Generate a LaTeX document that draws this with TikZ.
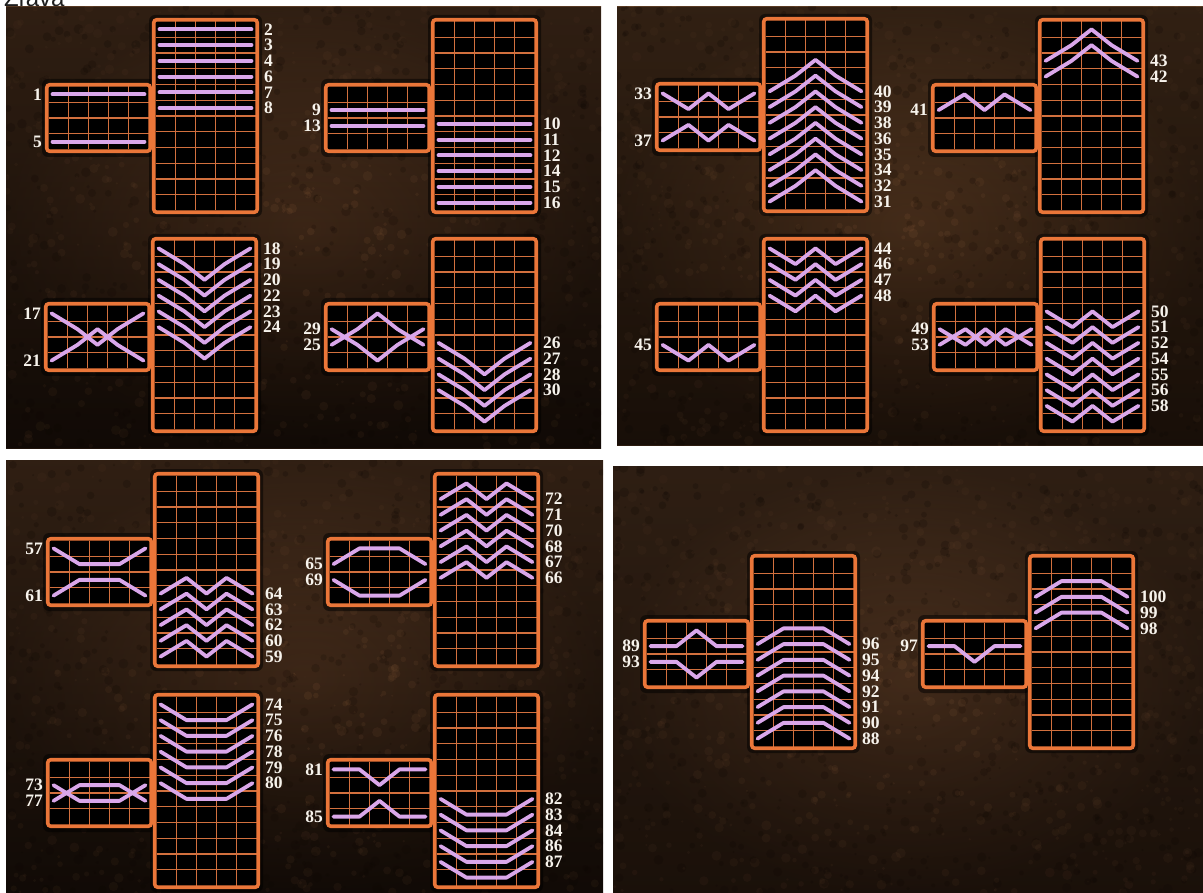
\documentclass[tikz,border=0pt]{standalone}
\usepackage{fontspec}
\setmainfont{Liberation Serif}
\newfontfamily\titlefont{Liberation Sans}
\usetikzlibrary{fadings}
\definecolor{boxorange}{HTML}{EA7639}
\definecolor{gridorange}{HTML}{D2703E}
\definecolor{paycol}{HTML}{D9A7EA}
\definecolor{labcol}{HTML}{F7F3EC}
\definecolor{titlecol}{HTML}{1E1E1E}
\definecolor{blobhi}{HTML}{8A5C3A}
\definecolor{bloblo}{HTML}{140A04}
\definecolor{pAtop}{HTML}{573822}\definecolor{pAmid}{HTML}{40291A}\definecolor{pAbot}{HTML}{1E120A}
\definecolor{pBtop}{HTML}{5A3B23}\definecolor{pBmid}{HTML}{452C1B}\definecolor{pBbot}{HTML}{2C1B0F}
\definecolor{pCtop}{HTML}{583923}\definecolor{pCmid}{HTML}{40291A}\definecolor{pCbot}{HTML}{1F130B}
\definecolor{pDtop}{HTML}{553823}\definecolor{pDmid}{HTML}{4C321F}\definecolor{pDbot}{HTML}{301E12}
\tikzfading[name=vignette, inner color=transparent!100, outer color=transparent!55]

\tikzset{
  boxfill/.style={fill=black, rounded corners=3},
  boxedge/.style={draw=boxorange, line width=3.6, rounded corners=3},
  gridln/.style={draw=gridorange, line width=1.35},
  gridlnv/.style={draw=gridorange, line width=1.6},
  boxshadow/.style={fill=black, opacity=0.5, rounded corners=6},
  payln/.style={draw=paycol, line width=3.8, line cap=round, line join=round},
  numlab/.style={text=labcol, font=\bfseries\fontsize{17.5}{17.5}\selectfont, inner sep=0pt},
}

\newcommand\slotboxes{%
  \fill[boxshadow] (-110,61) rectangle (3,139);
  \fill[boxshadow] (-3,-3) rectangle (110,199);
  \fill[boxfill] (-105.25,66.75) rectangle (-1.75,133.25);
  \fill[boxfill] (1.75,1.75) rectangle (105.25,194.25);
  \foreach \i in {1,...,4}{%
    \draw[gridlnv] ({-103.5+20*\i},68.5) -- ({-103.5+20*\i},131.5);
    \draw[gridlnv] ({3.5+20*\i},3.5) -- ({3.5+20*\i},192.5);}
  \foreach \j in {1,...,3}{\draw[gridln] (-103.5,{68.5+15.75*\j}) -- (-3.5,{68.5+15.75*\j});}
  \foreach \j in {1,...,11}{\draw[gridln] (3.5,{3.5+15.75*\j}) -- (103.5,{3.5+15.75*\j});}
  \draw[boxedge] (-105.25,66.75) rectangle (-1.75,133.25);
  \draw[boxedge] (1.75,1.75) rectangle (105.25,194.25);
}
\newcommand\payS[5]{\draw[payln] (-99.5,{68.5+(#1-0.5)*15.75}) -- (-73.5,{68.5+(#2-0.5)*15.75}) -- (-53.5,{68.5+(#3-0.5)*15.75}) -- (-33.5,{68.5+(#4-0.5)*15.75}) -- (-7.5,{68.5+(#5-0.5)*15.75});}
\newcommand\payT[5]{\draw[payln] (7.5,{3.5+(#1-0.5)*15.75}) -- (33.5,{3.5+(#2-0.5)*15.75}) -- (53.5,{3.5+(#3-0.5)*15.75}) -- (73.5,{3.5+(#4-0.5)*15.75}) -- (99.5,{3.5+(#5-0.5)*15.75});}
\newcommand\labL[2]{\node[numlab, anchor=east] (n#1) at (-110,{68.5+(#2-0.5)*15.75}) {#1};}
\newcommand\labR[2]{\node[numlab, anchor=west] (n#1) at (112,{3.5+(#2-0.5)*15.75}) {#1};}
\newcommand\texturize[4]{%
  \begin{scope}
    \clip (#1,#2) rectangle (#3,#4);
    \foreach \k in {1,...,700}{%
      \pgfmathsetmacro\bx{#1+rnd*(#3-#1)}%
      \pgfmathsetmacro\by{#2+rnd*(#4-#2)}%
      \pgfmathsetmacro\br{1+rnd*4}%
      \fill[blobhi, opacity=0.16] (\bx,\by) circle[radius=\br];
      \pgfmathsetmacro\bx{#1+rnd*(#3-#1)}%
      \pgfmathsetmacro\by{#2+rnd*(#4-#2)}%
      \pgfmathsetmacro\br{1+rnd*4}%
      \fill[bloblo, opacity=0.2] (\bx,\by) circle[radius=\br];
    }
    \fill[black, path fading=vignette] (#1,#2) rectangle (#3,#4);
  \end{scope}}

\begin{document}
\begin{tikzpicture}[x=1pt, y=-1pt]
\useasboundingbox (0,0) rectangle (1203,893);
\clip (0,0) rectangle (1203,893);
\fill[white] (0,0) rectangle (1203,893);
\pgfmathsetseed{42}

% panels
\shade[top color=pAtop, middle color=pAmid, bottom color=pAbot] (6,7) rectangle (601,448);
\texturize{6}{7}{601}{448}
\shade[top color=pBtop, middle color=pBmid, bottom color=pBbot] (617,7) rectangle (1203,445);
\texturize{617}{7}{1203}{445}
\shade[top color=pCtop, middle color=pCmid, bottom color=pCbot] (6,460) rectangle (603,893);
\texturize{6}{460}{603}{893}
\shade[top color=pDtop, middle color=pDmid, bottom color=pDbot] (613,466) rectangle (1203,893);
\texturize{613}{466}{1203}{893}

\node[anchor=base west, inner sep=0pt, text=titlecol, font=\titlefont\fontsize{24}{24}\selectfont] (title) at (4,7) {Zľava};

% D1
\begin{scope}[shift={(152,18)}]
  \slotboxes
  \payS{1}{1}{1}{1}{1} \payS{4}{4}{4}{4}{4}
  \labL{1}{1} \labL{5}{4}
  \foreach \r/\n in {1/2,2/3,3/4,4/6,5/7,6/8}{\payT{\r}{\r}{\r}{\r}{\r}\labR{\n}{\r}}
\end{scope}
% D2
\begin{scope}[shift={(431,18)}]
  \slotboxes
  \payS{2}{2}{2}{2}{2} \payS{3}{3}{3}{3}{3}
  \labL{9}{2} \labL{13}{3}
  \foreach \r/\n in {7/10,8/11,9/12,10/14,11/15,12/16}{\payT{\r}{\r}{\r}{\r}{\r}\labR{\n}{\r}}
\end{scope}
% D3
\begin{scope}[shift={(151,237)}]
  \slotboxes
  \payS{1}{2}{3}{2}{1} \payS{4}{3}{2}{3}{4}
  \labL{17}{1} \labL{21}{4}
  \foreach \r/\n in {1/18,2/19,3/20,4/22,5/23,6/24}{\payT{\r}{\r+1}{\r+2}{\r+1}{\r}\labR{\n}{\r}}
\end{scope}
% D4
\begin{scope}[shift={(431,237)}]
  \slotboxes
  \payS{2}{3}{4}{3}{2} \payS{3}{2}{1}{2}{3}
  \labL{29}{2} \labL{25}{3}
  \foreach \r/\n in {7/26,8/27,9/28,10/30}{\payT{\r}{\r+1}{\r+2}{\r+1}{\r}\labR{\n}{\r}}
\end{scope}
% D5
\begin{scope}[shift={(762,17)}]
  \slotboxes
  \payS{1}{2}{1}{2}{1} \payS{4}{3}{4}{3}{4}
  \labL{33}{1} \labL{37}{4}
  \foreach \r/\n in {5/40,6/39,7/38,8/36,9/35,10/34,11/32,12/31}{\payT{\r}{\r-1}{\r-2}{\r-1}{\r}\labR{\n}{\r}}
\end{scope}
% D6
\begin{scope}[shift={(1038,18)}]
  \slotboxes
  \payS{2}{1}{2}{1}{2}
  \labL{41}{2}
  \foreach \r/\n in {3/43,4/42}{\payT{\r}{\r-1}{\r-2}{\r-1}{\r}\labR{\n}{\r}}
\end{scope}
% D7
\begin{scope}[shift={(762,237)}]
  \slotboxes
  \payS{3}{4}{3}{4}{3}
  \labL{45}{3}
  \foreach \r/\n in {1/44,2/46,3/47,4/48}{\payT{\r}{\r+1}{\r}{\r+1}{\r}\labR{\n}{\r}}
\end{scope}
% D8
\begin{scope}[shift={(1039,237)}]
  \slotboxes
  \payS{2}{3}{2}{3}{2} \payS{3}{2}{3}{2}{3}
  \labL{49}{2} \labL{53}{3}
  \foreach \r/\n in {5/50,6/51,7/52,8/54,9/55,10/56,11/58}{\payT{\r}{\r+1}{\r}{\r+1}{\r}\labR{\n}{\r}}
\end{scope}
% D9
\begin{scope}[shift={(153,472)}]
  \slotboxes
  \payS{1}{2}{2}{2}{1} \payS{4}{3}{3}{3}{4}
  \labL{57}{1} \labL{61}{4}
  \foreach \r/\n in {8/64,9/63,10/62,11/60,12/59}{\payT{\r}{\r-1}{\r}{\r-1}{\r}\labR{\n}{\r}}
\end{scope}
% D10
\begin{scope}[shift={(433,472)}]
  \slotboxes
  \payS{2}{1}{1}{1}{2} \payS{3}{4}{4}{4}{3}
  \labL{65}{2} \labL{69}{3}
  \foreach \r/\n in {2/72,3/71,4/70,5/68,6/67,7/66}{\payT{\r}{\r-1}{\r}{\r-1}{\r}\labR{\n}{\r}}
\end{scope}
% D11
\begin{scope}[shift={(153,693)}]
  \slotboxes
  \payS{2}{3}{3}{3}{2} \payS{3}{2}{2}{2}{3}
  \labL{73}{2} \labL{77}{3}
  \foreach \r/\n in {1/74,2/75,3/76,4/78,5/79,6/80}{\payT{\r}{\r+1}{\r+1}{\r+1}{\r}\labR{\n}{\r}}
\end{scope}
% D12
\begin{scope}[shift={(433,693)}]
  \slotboxes
  \payS{1}{1}{2}{1}{1} \payS{4}{4}{3}{4}{4}
  \labL{81}{1} \labL{85}{4}
  \foreach \r/\n in {7/82,8/83,9/84,10/86,11/87}{\payT{\r}{\r+1}{\r+1}{\r+1}{\r}\labR{\n}{\r}}
\end{scope}
% D13
\begin{scope}[shift={(750,554)}]
  \slotboxes
  \payS{2}{2}{1}{2}{2} \payS{3}{3}{4}{3}{3}
  \labL{89}{2} \labL{93}{3}
  \foreach \r/\n in {6/96,7/95,8/94,9/92,10/91,11/90,12/88}{\payT{\r}{\r-1}{\r-1}{\r-1}{\r}\labR{\n}{\r}}
\end{scope}
% D14
\begin{scope}[shift={(1028,554)}]
  \slotboxes
  \payS{2}{2}{3}{2}{2}
  \labL{97}{2}
  \foreach \r/\n in {3/100,4/99,5/98}{\payT{\r}{\r-1}{\r-1}{\r-1}{\r}\labR{\n}{\r}}
\end{scope}
\end{tikzpicture}
\end{document}
